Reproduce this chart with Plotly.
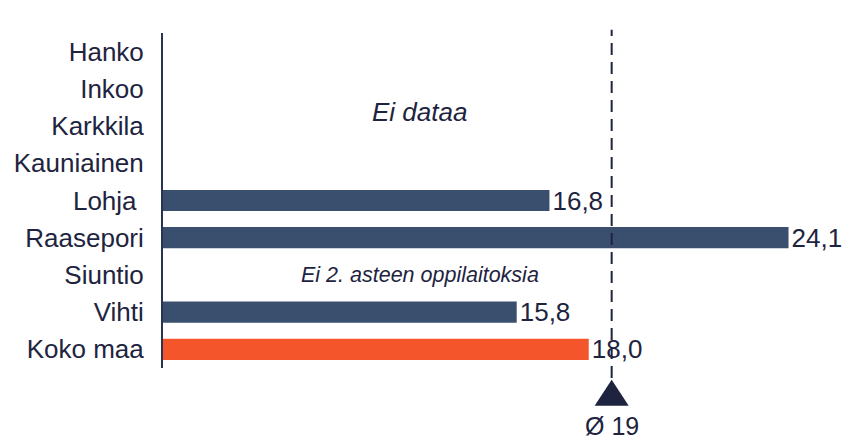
import plotly.graph_objects as go

categories = ["Hanko", "Inkoo", "Karkkila", "Kauniainen", "Lohja ", "Raasepori", "Siuntio", "Vihti", "Koko maa"]
values = [None, None, None, None, 16.8, 24.1, None, 15.8, 18.0]
bar_colors = ["#3A4F6E"] * 8 + ["#F4552B"]
avg_value = 18.7
avg_label = "Ø 19"
note_no_data = "Ei dataa"
note_siuntio = "Ei 2. asteen oppilaitoksia"

TXT = "#1E2440"
FONT = "Liberation Sans, Arial, sans-serif"

fig = go.Figure()
fig.add_trace(go.Bar(
    y=categories, x=values, orientation="h",
    marker=dict(color=bar_colors, line=dict(width=0)),
    width=0.57,
    text=[None if v is None else f"{v:.1f}".replace(".", ",") for v in values],
    textposition="outside", cliponaxis=False, constraintext="none",
    textfont=dict(size=26, color=TXT, family=FONT),
    hoverinfo="skip",
))

# dashed average line
fig.add_shape(type="line", xref="x", yref="paper", x0=avg_value, x1=avg_value,
              y0=-0.03, y1=1.01, line=dict(color=TXT, width=2, dash="12px,7px"))
# triangle marker below
hw = 0.52
fig.add_shape(type="path", xref="x", yref="paper",
              path=f"M {avg_value-hw},-0.113 L {avg_value+hw},-0.113 L {avg_value},-0.035 Z",
              fillcolor=TXT, line=dict(width=0))
fig.add_annotation(x=avg_value, xref="x", y=-0.127, yref="paper", text=avg_label,
                   showarrow=False, font=dict(size=25, color=TXT, family=FONT),
                   xanchor="center", yanchor="top", borderpad=0)

fig.add_annotation(x=0.392, xref="paper", y=1.62, yref="y", text=f"<i>{note_no_data}</i>",
                   showarrow=False, font=dict(size=26, color=TXT, family=FONT))
fig.add_annotation(x=0.392, xref="paper", y=6, yref="y", text=f"<i>{note_siuntio}</i>",
                   showarrow=False, font=dict(size=21.5, color=TXT, family=FONT))

fig.update_layout(
    width=851, height=443,
    margin=dict(l=163, r=33, t=33, b=75),
    paper_bgcolor="white", plot_bgcolor="white",
    showlegend=False,
    separators=", ",
    font=dict(family=FONT, color=TXT, size=26),
    xaxis=dict(range=[5, 25], visible=False, showgrid=False, zeroline=False),
    yaxis=dict(autorange="reversed", showline=True, linecolor="#2A3350", linewidth=2,
               showgrid=False, zeroline=False, ticks="", ticklabelstandoff=12,
               tickfont=dict(size=26, color=TXT, family=FONT)),
    bargap=0.43,
)

fig.write_html("out.html", config={"displayModeBar": False},
               post_script="document.body.style.margin='0';document.body.style.padding='0';")
